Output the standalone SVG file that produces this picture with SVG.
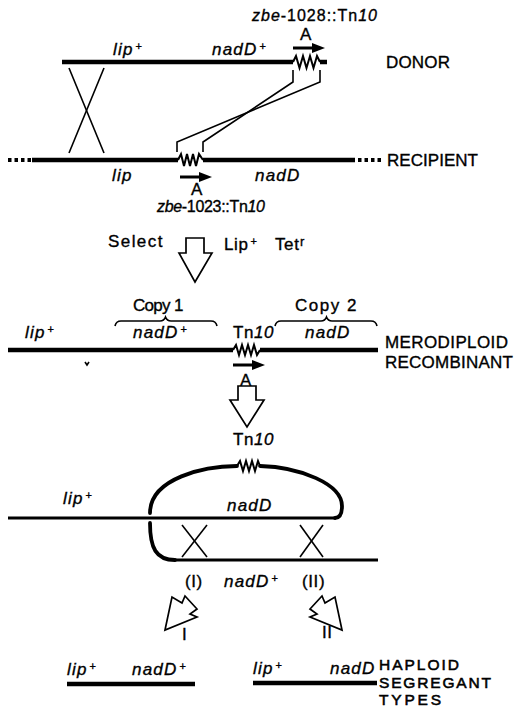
<svg xmlns="http://www.w3.org/2000/svg" width="515" height="710" viewBox="0 0 515 710">
  <style>
    text { font-family: "Liberation Sans", Arial, Helvetica, sans-serif; fill: #000; stroke: #000; stroke-width: 0.35; }
    .it { font-size: 17px; font-style: italic; letter-spacing: 1.2px; }
    .rm { font-size: 17px; letter-spacing: 0.6px; }
    .cap { font-size: 17px; }
    .cap-s { font-size: 15.5px; stroke-width: 0.55; }
    .sup { font-size: 11px; font-style: normal; letter-spacing: 0; }
    .tag { font-size: 16px; }
    .chrom { fill: none; stroke: #000; stroke-width: 4.5; stroke-linecap: butt; }
    .chrom-thin { fill: none; stroke: #000; stroke-width: 3; }
    .loop { fill: none; stroke: #000; stroke-width: 3.8; stroke-linecap: round; }
    .tn { fill: none; stroke: #000; stroke-width: 2; stroke-linejoin: miter; }
    .thin { fill: none; stroke: #000; stroke-width: 1.6; }
    .dots { fill: none; stroke: #000; stroke-width: 4; stroke-dasharray: 3.5 3; }
    .open { fill: #fff; stroke: #000; stroke-width: 1.7; stroke-linejoin: miter; }
    .shaft { stroke: #000; stroke-width: 3; }
    .head { fill: #000; }
  </style>

  <!-- Donor chromosome -->
  <g id="donor">
    <line class="chrom" x1="62" y1="62" x2="293" y2="62"/>
    <polyline class="tn" points="293,62 296,56 299.5,68 303,56 306.5,68 310,56 313.5,68 317,56 320,62"/>
    <line class="chrom" x1="320" y1="62" x2="327" y2="62"/>
    <line class="shaft" x1="293" y1="48" x2="314" y2="48"/>
    <polygon class="head" points="312,43 325,48 312,53"/>
    <text class="rm" x="306" y="40" text-anchor="middle">A</text>
    <text class="tag" x="252" y="21" textLength="125"><tspan font-style="italic">zbe</tspan>-1028::Tn<tspan font-style="italic">10</tspan></text>
    <text class="it" x="113" y="55">lip<tspan class="sup" dx="2" dy="-5">+</tspan></text>
    <text class="it" x="212" y="55">nadD<tspan class="sup" dx="2" dy="-5">+</tspan></text>
    <text class="cap" x="386" y="68" textLength="64">DONOR</text>
  </g>

  <!-- Recipient chromosome -->
  <g id="recipient">
    <line class="dots" x1="8" y1="160" x2="31" y2="160"/>
    <line class="chrom" x1="32" y1="160" x2="178" y2="160"/>
    <polyline class="tn" points="178,160 181,154 184,166 187,154 190,166 193,154 196,166 199,154 203,160"/>
    <line class="chrom" x1="203" y1="160" x2="355" y2="160"/>
    <line class="dots" x1="358" y1="160" x2="381" y2="160"/>
    <line class="shaft" x1="180" y1="177" x2="201" y2="177"/>
    <polygon class="head" points="199,172 212,177 199,182"/>
    <text class="rm" x="197" y="195" text-anchor="middle" font-size="16">A</text>
    <text class="tag" x="157" y="212" textLength="108" font-size="15"><tspan font-style="italic">zbe</tspan>-1023::Tn<tspan font-style="italic">10</tspan></text>
    <text class="it" x="112" y="181">lip</text>
    <text class="it" x="255" y="181">nadD</text>
    <text class="cap" x="387" y="166" textLength="91">RECIPIENT</text>
  </g>

  <!-- Selection step -->
  <g id="selection">
    <text class="rm" x="108" y="247" textLength="55">Select</text>
    <text class="rm" x="224" y="250">Lip<tspan class="sup" dx="2" dy="-5">+</tspan></text>
    <text class="rm" x="275" y="250">Tet<tspan font-size="13" dx="0.5" dy="-4">r</tspan></text>
  </g>

  <!-- Merodiploid recombinant -->
  <g id="merodiploid">
    <line class="chrom" x1="8" y1="350" x2="233" y2="350"/>
    <polyline class="tn" points="233,350 236,345 239,355 242,345 245,355 248,345 251,355 254,345 257,355 260,350"/>
    <line class="chrom" x1="260" y1="350" x2="378" y2="350"/>
    <line class="shaft" x1="233" y1="365" x2="254" y2="365"/>
    <polygon class="head" points="252,360 265,365 252,370"/>
    <text class="rm" x="246" y="386" text-anchor="middle">A</text>
    <text class="it" x="25" y="338">lip<tspan class="sup" dx="2" dy="-5">+</tspan></text>
    <text class="rm" x="133" y="311" textLength="51">Copy 1</text>
    <path class="thin" d="M115,326 Q116,321 121,321 L160,321 Q164,321 165.5,317 Q167,321 171,321 L211,321 Q216,321 217,326"/>
    <text class="it" x="133" y="338">nadD<tspan class="sup" dx="2" dy="-5">+</tspan></text>
    <text class="rm" x="233" y="338">Tn<tspan font-style="italic">10</tspan></text>
    <text class="rm" x="295" y="311" textLength="62">Copy 2</text>
    <path class="thin" d="M275,326 Q276,321 281,321 L321,321 Q325,321 326.5,317 Q328,321 332,321 L371,321 Q376,321 377,326"/>
    <text class="it" x="305" y="338">nadD</text>
    <text class="cap" x="385" y="348" textLength="123">MERODIPLOID</text>
    <text class="cap" x="385" y="368" textLength="128">RECOMBINANT</text>
    <path class="thin" d="M85,362 l2,3 l2,-3" stroke-width="1.4"/>
  </g>

  <!-- Looped-out intermediate with the two crossover sites -->
  <g id="loop">
    <text class="rm" x="233" y="445">Tn<tspan font-style="italic">10</tspan></text>
    <polyline class="tn" points="237,466 240,461 243,471 246,461 249,471 252,461 255,471 258,461 260,466"/>
    <path class="loop" d="M237,466 C205,466 150,478 150,513"/>
    <path class="loop" d="M260,466 C300,467 342,484 342,506 C342,514 340,518 335,518"/>
    <line class="chrom-thin" x1="8" y1="518" x2="336" y2="518"/>
    <path class="loop" d="M150,523 C150,548 156,560 175,560" stroke-linecap="butt"/>
    <line class="chrom-thin" x1="174" y1="560" x2="378" y2="560"/>
    <text class="it" x="63" y="504">lip<tspan class="sup" dx="2" dy="-5">+</tspan></text>
    <text class="it" x="227" y="511">nadD</text>
    <text class="rm" x="185" y="587">(I)</text>
    <text class="it" x="224" y="587">nadD<tspan class="sup" dx="2" dy="-5">+</tspan></text>
    <text class="rm" x="302" y="587">(II)</text>
  </g>

  <!-- Haploid segregant from crossover I -->
  <g id="segregant-1">
    <line class="chrom" x1="67" y1="684" x2="195" y2="684"/>
    <text class="it" x="67" y="675">lip<tspan class="sup" dx="2" dy="-5">+</tspan></text>
    <text class="it" x="132" y="675">nadD<tspan class="sup" dx="2" dy="-5">+</tspan></text>
  </g>

  <!-- Haploid segregant from crossover II -->
  <g id="segregant-2">
    <line class="chrom" x1="253" y1="683" x2="377" y2="683"/>
    <text class="it" x="253" y="674">lip<tspan class="sup" dx="2" dy="-5">+</tspan></text>
    <text class="it" x="330" y="674">nadD</text>
    <text class="cap-s" x="379" y="670" textLength="80">HAPLOID</text>
    <text class="cap-s" x="379" y="687.5" textLength="112">SEGREGANT</text>
    <text class="cap-s" x="379" y="705" textLength="62">TYPES</text>
  </g>

  <!-- Connectors: crossovers, transposon pairing lines, step arrows -->
  <g id="connectors">
    <line class="thin" x1="69" y1="68" x2="104" y2="153"/>
    <line class="thin" x1="104" y1="68" x2="69" y2="153"/>
    <polyline class="thin" points="293,70 293,82 203,142 203,152"/>
    <polyline class="thin" points="320,70 320,82 177,142 177,152"/>
    <path class="open" d="M186,238 L204,238 L204,253 L212,253 L195,282 L179,253 L186,253 Z"/>
    <path class="open" d="M238,386 L256,386 L256,400 L264,400 L247,427 L230,400 L238,400 Z"/>
    <line class="thin" x1="182" y1="525" x2="207" y2="557"/>
    <line class="thin" x1="207" y1="525" x2="182" y2="557"/>
    <line class="thin" x1="300" y1="525" x2="323" y2="557"/>
    <line class="thin" x1="323" y1="525" x2="300" y2="557"/>
    <polygon class="open" points="165,630 172,597 182,603 185,596 197,609 190,614 197,617"/>
    <text class="rm" x="182" y="640">I</text>
    <polygon class="open" points="342,630 335,597 325,603 322,596 310,609 317,614 310,617"/>
    <text class="rm" x="322" y="638">II</text>
  </g>
</svg>
